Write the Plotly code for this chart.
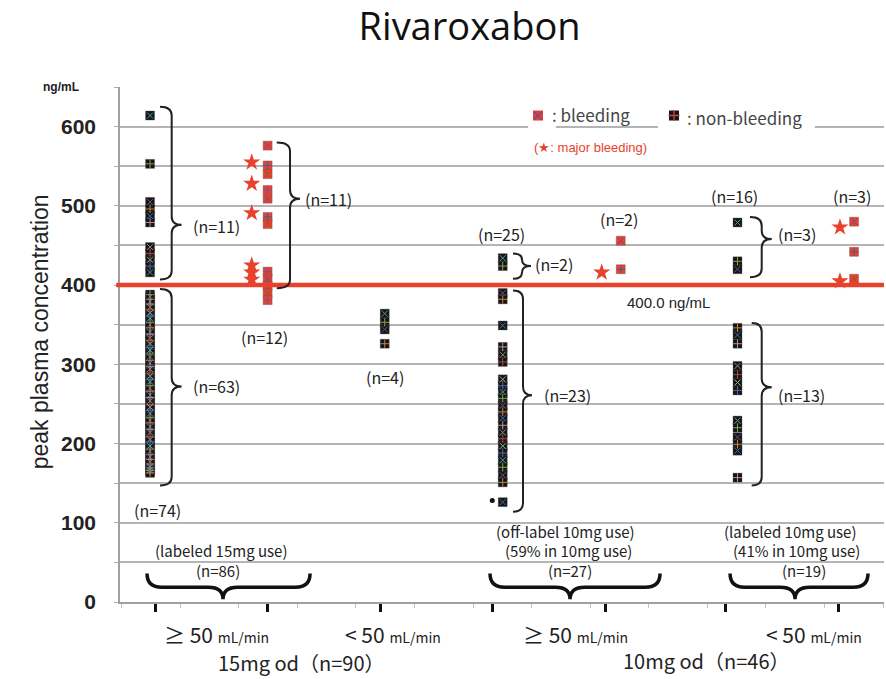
import plotly.graph_objects as go

# ---------------- peak plasma concentration values (ng/mL) ----------------
# 15 mg od, CrCl >= 50 mL/min
nb15_ge50_above = [614, 553, 505, 496, 487, 479, 448, 440, 432, 424, 416]
nb15_ge50_below = [388, 385, 382, 379, 376, 372, 369, 365, 361, 358,
                   353, 350, 346, 341, 338, 333, 330, 326, 321, 318,
                   313, 309, 305, 302, 297, 294, 289, 285, 281, 278,
                   273, 270, 266, 261, 258, 254, 249, 246, 242, 238,
                   233, 229, 226, 221, 218, 214, 209, 205, 202, 197,
                   193, 190, 186, 183, 180, 177, 174, 171, 169, 167,
                   166, 165, 163]
bl15_ge50 = [576, 551, 540, 520, 509, 486, 477, 417, 408, 399, 390, 381]
mj15_ge50 = [555, 528, 491, 425, 416, 407]
# 15 mg od, CrCl < 50 mL/min
nb15_lt50 = [364, 353, 344, 326]
# 10 mg od, CrCl >= 50 mL/min (off-label)
nb10_ge50_above = [434, 424]
nb10_ge50_below = [390, 382, 349, 322, 312, 303, 281, 273, 265, 257,
                   248, 240, 232, 223, 214, 206, 197, 188, 179, 170,
                   160, 151, 126]
nb10_ge50_dot = [128]
bl10_ge50 = [456, 420]
mj10_ge50 = [416]
# 10 mg od, CrCl < 50 mL/min (labeled)
nb10_lt50_above = [479, 430, 420]
nb10_lt50_below = [346, 337, 326, 298, 287, 277, 267, 229, 220, 208,
                   199, 191, 157]
bl10_lt50 = [480, 442, 408]
mj10_lt50 = [473, 405]

THRESHOLD = 400.0

# x-axis tick positions and category labels
tick_pos = [1, 2, 3, 4, 5, 6.07, 7.07]
crcl_labels = ["≥ 50", "< 50", "≥ 50", "< 50"]
crcl_label_x = [1.542, 3.114, 4.730, 6.852]
dose_labels = ["15mg od（n=90）", "10mg od（n=46）"]
dose_label_x = [1.551, 5.147]
dose_label_y = [-0.118, -0.113]

# ---------------- styling ----------------
RED = "#e8412c"
BOX_DARK = "#151515"
NB_INNER = ["#4a9aa8", "#7fa84a", "#6a4f93", "#c98040", "#3f6fae",
            "#b99599", "#8a8a8a", "#b04a40", "#97b090", "#5565b0"]
BL_INNER = ["#6b4c9a", "#3b5fa8", "#8a5a2a", "#7a4fa3"]
INNER_SYMS = ["x-thin", "cross-thin"]
LABEL_FONT = "Noto Sans CJK JP"

fig = go.Figure()


def column(values, xpos, box_color, inner_colors):
    n = len(values)
    xs = [xpos] * n
    fig.add_trace(go.Scatter(
        x=xs, y=values, mode="markers", hoverinfo="y", showlegend=False,
        marker=dict(symbol="square", size=9, color=box_color,
                    line=dict(width=0.6, color="rgba(90,90,90,0.6)"))))
    cols = [inner_colors[i % len(inner_colors)] for i in range(n)]
    syms = [INNER_SYMS[i % len(INNER_SYMS)] for i in range(n)]
    fig.add_trace(go.Scatter(
        x=xs, y=values, mode="markers", hoverinfo="skip", showlegend=False,
        marker=dict(symbol=syms, size=6, color=cols,
                    line=dict(width=1, color=cols))))


def stars(values, xpos):
    fig.add_trace(go.Scatter(
        x=[xpos] * len(values), y=values, mode="markers", hoverinfo="y",
        showlegend=False,
        marker=dict(symbol="star", size=13, color=RED, line=dict(width=0))))


# non-bleeding columns
column(nb15_ge50_above + nb15_ge50_below, 0.956, BOX_DARK, NB_INNER)
column(nb15_lt50, 3.04, BOX_DARK, NB_INNER)
column(nb10_ge50_above + nb10_ge50_below, 4.088, BOX_DARK, NB_INNER)
column(nb10_lt50_above + nb10_lt50_below, 6.173, BOX_DARK, NB_INNER)
# bleeding columns
column(bl15_ge50, 2.0, RED, BL_INNER)
column(bl10_ge50, 5.136, RED, BL_INNER)
column(bl10_lt50, 7.208, RED, BL_INNER)
# major bleeding
stars(mj15_ge50, 1.859)
stars(mj10_ge50, 4.967)
stars(mj10_lt50, 7.083)
# single small point beside the off-label column
fig.add_trace(go.Scatter(x=[3.995] * len(nb10_ge50_dot), y=nb10_ge50_dot,
                         mode="markers", hoverinfo="y", showlegend=False,
                         marker=dict(symbol="circle", size=5, color="#111")))

# legend keys
fig.add_trace(go.Scatter(x=[4.401], y=[614], mode="markers", hoverinfo="skip",
                         showlegend=False,
                         marker=dict(symbol="square", size=10, color=RED)))
fig.add_trace(go.Scatter(x=[4.401], y=[614], mode="markers", hoverinfo="skip",
                         showlegend=False,
                         marker=dict(symbol="x-thin", size=8, color="#6b4c9a",
                                     line=dict(width=1.3, color="#6b4c9a"))))
fig.add_trace(go.Scatter(x=[5.609], y=[614], mode="markers", hoverinfo="skip",
                         showlegend=False,
                         marker=dict(symbol="square", size=10, color=BOX_DARK)))
fig.add_trace(go.Scatter(x=[5.609], y=[614], mode="markers", hoverinfo="skip",
                         showlegend=False,
                         marker=dict(symbol="cross-thin", size=8, color="#c8463a",
                                     line=dict(width=1.3, color="#c8463a"))))

shapes = []

# white patch behind the legend text on the 600 gridline
for x0, x1 in [(4.313, 4.561), (5.467, 6.860)]:
    shapes.append(dict(type="rect", xref="x", yref="y", x0=x0, x1=x1,
                       y0=593, y1=607, fillcolor="white", line=dict(width=0),
                       layer="between"))

# 400 ng/mL reference line
shapes.append(dict(type="line", xref="paper", yref="y", x0=-0.005, x1=1,
                   y0=THRESHOLD, y1=THRESHOLD,
                   line=dict(color=RED, width=4.5), layer="above"))


def vbrace(xs, xv, xt, top, bot, tip, r=11):
    r = min(r, (top - tip) / 2, (tip - bot) / 2)
    path = (f"M {xs},{top} Q {xv},{top} {xv},{top - r} "
            f"L {xv},{tip + r} Q {xv},{tip} {xt},{tip} "
            f"Q {xv},{tip} {xv},{tip - r} "
            f"L {xv},{bot + r} Q {xv},{bot} {xs},{bot}")
    shapes.append(dict(type="path", xref="x", yref="y", path=path,
                       line=dict(color="#222", width=2)))


def hbrace(xl, xr, xt, ytop=36, ymid=18.6, ybot=3.4, rx=0.13):
    path = (f"M {xl},{ytop} Q {xl},{ymid} {xl + rx},{ymid} "
            f"L {xt - rx},{ymid} Q {xt},{ymid} {xt},{ybot} "
            f"Q {xt},{ymid} {xt + rx},{ymid} "
            f"L {xr - rx},{ymid} Q {xr},{ymid} {xr},{ytop}")
    shapes.append(dict(type="path", xref="x", yref="y", path=path,
                       line=dict(color="#111", width=3.5)))


vbrace(1.044, 1.148, 1.236, 625, 407, 476)
vbrace(1.044, 1.148, 1.236, 395, 147, 272)
vbrace(2.081, 2.199, 2.288, 580, 396, 509)
vbrace(4.179, 4.259, 4.339, 440, 408, 424)
vbrace(4.179, 4.268, 4.348, 393, 114, 261)
vbrace(6.284, 6.388, 6.477, 486, 410, 458)
vbrace(6.299, 6.388, 6.477, 352, 147, 271)

hbrace(0.929, 2.377, 1.604)
hbrace(3.975, 5.485, 4.686)
hbrace(6.107, 7.332, 6.684)

annotations = []


def note(text, x, y, size=16, color="#222", family=LABEL_FONT, **kw):
    d = dict(text=text, x=x, y=y, xref=kw.pop("xref", "x"),
             yref=kw.pop("yref", "y"), showarrow=False,
             xanchor=kw.pop("xanchor", "center"),
             yanchor=kw.pop("yanchor", "middle"),
             font=dict(family=family, size=size, color=color))
    d.update(kw)
    annotations.append(d)


# group counts
note("(n=11)", 1.542, 475)
note("(n=63)", 1.542, 273)
note("(n=74)", 1.018, 116)
note("(n=11)", 2.545, 509)
note("(n=12)", 1.968, 335)
note("(n=4)", 3.043, 284)
note("(n=25)", 4.073, 465)
note("(n=2)", 4.544, 427)
note("(n=23)", 4.659, 261)
note("(n=2)", 5.121, 484)
note("(n=16)", 6.148, 513)
note("(n=3)", 6.702, 465)
note("(n=13)", 6.737, 261)
note("(n=3)", 7.19, 513)
note("400.0 ng/mL", 5.556, 378, size=15, family="Liberation Sans")

# dose-use notes above the bottom braces
note("(labeled 15mg use)", 1.586, 65, size=15)
note("(n=86)", 1.56, 40, size=15)
note("(off-label 10mg use)", 4.641, 89, size=15)
note("(59% in 10mg use)", 4.668, 65, size=15)
note("(n=27)", 4.686, 40, size=15)
note("(labeled 10mg use)", 6.639, 89, size=15)
note("(41% in 10mg use)", 6.693, 65, size=15)
note("(n=19)", 6.764, 40, size=15)

# legend text
note(": bleeding", 4.508, 615, size=17, color="#444", xanchor="left")
note(": non-bleeding", 5.707, 612, size=17, color="#444", xanchor="left")
note("(★: major bleeding)", 4.863, 574, size=13, color=RED,
     family="Liberation Sans")

# x-axis category labels
for lab, xx in zip(crcl_labels, crcl_label_x):
    note(f"{lab} <span style='font-size:14px'>mL/min</span>", xx, -0.063,
         size=21, color="#222", yref="paper")
for lab, xx, yy in zip(dose_labels, dose_label_x, dose_label_y):
    note(lab, xx, yy, size=20, color="#222", yref="paper", xanchor="left",
         borderpad=0)

# unit and axis title
note("<b>ng/mL</b>", -0.0766, 0.9994, size=12, color="#222",
     family="Liberation Sans", xref="paper", yref="paper")
note("peak plasma concentration", -0.1047, 0.5237, size=23, color="#222",
     family="Liberation Sans", xref="paper", yref="paper", textangle=-90)

ytick_vals = list(range(0, 651, 50))
ytick_text = [str(v) if v % 100 == 0 and v <= 600 else "" for v in ytick_vals]

fig.update_layout(
    width=886, height=679,
    margin=dict(l=120, r=2, t=87, b=77),
    paper_bgcolor="white", plot_bgcolor="white",
    title=dict(text="Rivaroxabon", x=0.530, xref="container", xanchor="center",
               y=1 - 27 / 679, yref="container", yanchor="middle",
               font=dict(family="Open Sans", size=38, color="#111")),
    showlegend=False,
    shapes=shapes,
    annotations=annotations,
    xaxis=dict(range=[0.689, 7.474], showgrid=False, zeroline=False,
               showline=True, linecolor="#a0a0a0", linewidth=1.5,
               tickmode="array", tickvals=tick_pos, showticklabels=False,
               ticks="outside", ticklen=8, tickwidth=2.5, tickcolor="#111",
               minor=dict(tick0=1.222, dtick=0.5204, ticks="outside",
                          ticklen=4, tickwidth=1, tickcolor="#c0c0c0")),
    yaxis=dict(range=[0, 650], tickmode="array", tickvals=ytick_vals,
               ticktext=ytick_text, showgrid=True, gridcolor="#b4b4b4",
               gridwidth=1.5, zeroline=False, showline=True,
               linecolor="#a0a0a0", linewidth=1.5, ticks="outside",
               ticklen=4, tickcolor="#b0b0b0", ticklabelstandoff=14,
               tickfont=dict(family="Liberation Sans", size=21, color="#222",
                             weight="bold")),
)

fig.write_html("out.html")
